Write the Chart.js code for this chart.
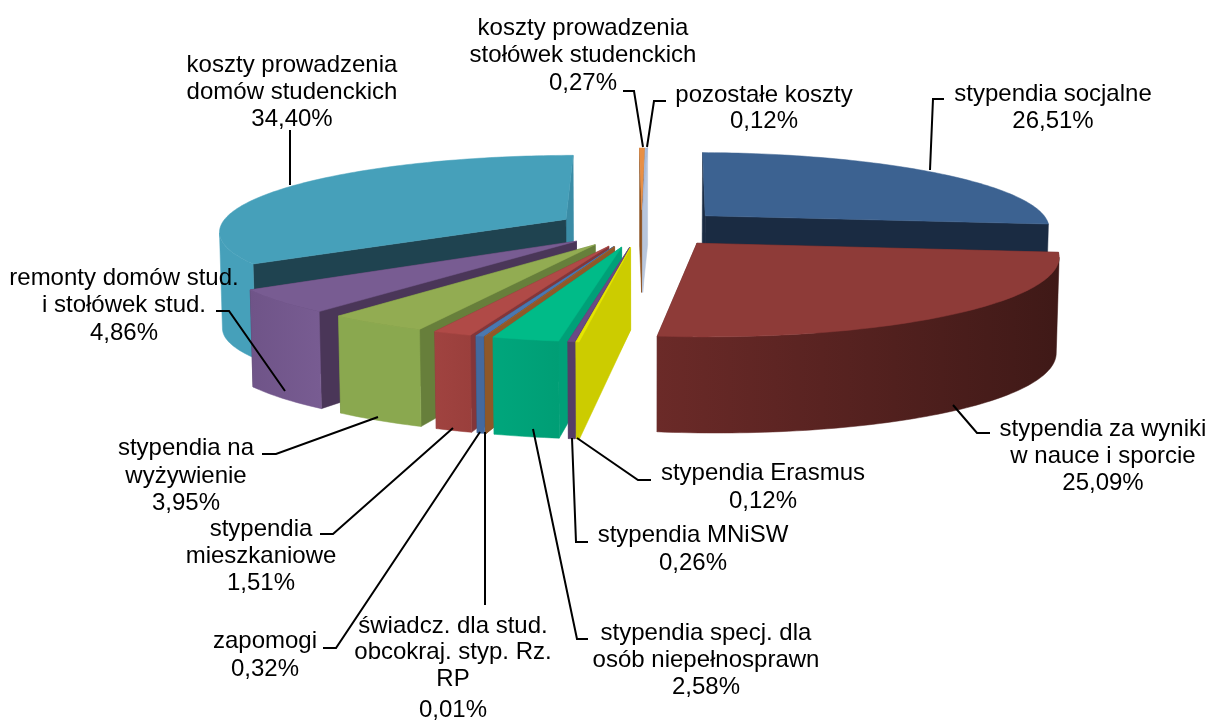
<!DOCTYPE html>
<html>
<head>
<meta charset="utf-8">
<title>Struktura kosztów</title>
<script src="https://cdn.jsdelivr.net/npm/chart.js@4"></script>
<style>
html, body { margin: 0; padding: 0; background: #fff; }
canvas { display: block; }
</style>
</head>
<body>
<canvas id="pie3d" width="1211" height="720"></canvas>
<script>
const categories = [
    'stypendia socjalne',
    'stypendia za wyniki w nauce i sporcie',
    'stypendia Erasmus',
    'stypendia MNiSW',
    'stypendia specj. dla osób niepełnosprawn',
    'świadcz. dla stud. obcokraj. styp. Rz. RP',
    'zapomogi',
    'stypendia mieszkaniowe',
    'stypendia na wyżywienie',
    'remonty domów stud. i stołówek stud.',
    'koszty prowadzenia domów studenckich',
    'koszty prowadzenia stołówek studenckich',
    'pozostałe koszty'
];
const shares = [26.51, 25.09, 0.12, 0.26, 2.58, 0.01, 0.32, 1.51, 3.95, 4.86, 34.40, 0.27, 0.12];

// top face, cut walls, outer wall (left and right end of the gradient)
const topColors = ['#3C6291', '#8E3B38', '#E6E600', '#6A4A85', '#00BB88', '#A0622E', '#4A78B0', '#B04A47', '#92AC52', '#785C92', '#46A0BA', '#E88F45', '#A9BBDB'];
const wallColors = ['#1A2B42', '#5A2523', '#CCCC00', '#553D66', '#00A078', '#8F5828', '#2F4A70', '#83363A', '#677F3B', '#4A3658', '#1F4350', '#8A5020', '#B8C6DC'];
const endWallColors = ['#1A2B42', '#5A2523', '#CCCC00', '#553D66', '#00A078', '#8F5828', '#2F4A70', '#83363A', '#677F3B', '#4A3658', '#3A8CA6', '#8A5020', '#B8C6DC'];
const outerLeft = ['#34557F', '#6B2A28', '#CCCC00', '#553D66', '#00A67C', '#8F5828', '#44699E', '#A04340', '#8AA84F', '#6F5488', '#46A0BA', '#8A5020', '#B8C6DC'];
const outerRight = ['#34557F', '#3F1917', '#CCCC00', '#553D66', '#009E75', '#8F5828', '#44699E', '#9A3F3C', '#8AA84F', '#785C92', '#46A0BA', '#8A5020', '#B8C6DC'];

// label text lines, centre x, y of each line, leader polyline
const labelLines = [
    ['stypendia socjalne', '26,51%'],
    ['stypendia za wyniki', 'w nauce i sporcie', '25,09%'],
    ['stypendia Erasmus', '0,12%'],
    ['stypendia MNiSW', '0,26%'],
    ['stypendia specj. dla', 'osób niepełnosprawn', '2,58%'],
    ['świadcz. dla stud.', 'obcokraj. styp. Rz.', 'RP', '0,01%'],
    ['zapomogi', '0,32%'],
    ['stypendia', 'mieszkaniowe', '1,51%'],
    ['stypendia na', 'wyżywienie', '3,95%'],
    ['remonty domów stud.', 'i stołówek stud.', '4,86%'],
    ['koszty prowadzenia', 'domów studenckich', '34,40%'],
    ['koszty prowadzenia', 'stołówek studenckich', '0,27%'],
    ['pozostałe koszty', '0,12%']
];
const labelX = [1053, 1103, 763, 693, 706, 453, 265, 261, 186, 124, 292, 583, 764];
const labelY = [
    [94, 121],
    [429, 456, 483],
    [473, 501],
    [535, 563],
    [633, 660, 687],
    [626, 652, 679, 710],
    [641, 669],
    [529, 556, 583],
    [448, 476, 503],
    [278, 305, 333],
    [65, 92, 119],
    [28, 55, 83],
    [95, 121]
];
const leaders = [
    [[944, 99], [933, 99], [930, 170]],
    [[990, 433], [977, 433], [953, 405]],
    [[651, 480], [638, 480], [577, 438]],
    [[588, 542], [576, 542], [572, 438]],
    [[588, 639], [577, 639], [533, 429]],
    [[485, 605], [485, 432]],
    [[323, 648], [336, 648], [480, 432]],
    [[320, 534], [333, 534], [453, 428]],
    [[262, 454], [276, 454], [378, 417]],
    [[216, 311], [229, 311], [285, 391]],
    [[290, 130], [290, 185]],
    [[623, 91], [634, 91], [643, 147]],
    [[666, 101], [654, 101], [647, 147]]
];

// view of the tilted pie on screen
const view = { cx: 641.5, cy: 228, sx: 347, sy: 75.5, dist: 7, height: 82, flare: 0.118, lean: 0.993 };

function project(x, z) {
    const p = 1 / (1 - z / view.dist);
    return { x: view.cx + view.sx * x * p, y: view.cy + view.sy * z * p };
}

function projectBottom(x, z) {
    const t = project(x, z);
    return {
        x: view.cx + (t.x - view.cx) * view.lean,
        y: t.y + view.height * (1 + view.flare * (x * x + z * z))
    };
}

function polygon(ctx, pts) {
    ctx.beginPath();
    pts.forEach((p, i) => i ? ctx.lineTo(p.x, p.y) : ctx.moveTo(p.x, p.y));
    ctx.closePath();
}

function fillFace(ctx, pts, fill) {
    polygon(ctx, pts);
    ctx.fillStyle = fill;
    ctx.strokeStyle = fill;
    ctx.lineWidth = 0.5;
    ctx.fill();
    ctx.stroke();
}

const pie3dPlugin = {
    id: 'pie3d',
    beforeDatasetDraw(chart) {
        const ctx = chart.ctx;
        const arcs = chart.getDatasetMeta(0).data;

        const slices = arcs.map((arc, i) => {
            const a0 = arc.startAngle, a1 = arc.endAngle, mid = (a0 + a1) / 2;
            const e = arc.options.offset / arc.outerRadius;
            const ox = Math.cos(mid) * e, oz = Math.sin(mid) * e;
            const rim = [];
            const steps = Math.max(2, Math.ceil((a1 - a0) / 0.02));
            for (let s = 0; s <= steps; s++) {
                const a = a0 + (a1 - a0) * s / steps;
                rim.push([ox + Math.cos(a), oz + Math.sin(a)]);
            }
            return { i, ox, oz, rim, depth: Math.sin(mid) };
        });

        // far slices first
        slices.sort((a, b) => a.depth - b.depth);

        slices.forEach(s => {
            const top = s.rim.map(r => project(r[0], r[1]));
            const bottom = s.rim.map(r => projectBottom(r[0], r[1]));
            const apexTop = project(s.ox, s.oz);
            const apexBottom = projectBottom(s.ox, s.oz);
            const last = top.length - 1;

            // end wall, start wall, outer wall, top
            fillFace(ctx, [apexTop, top[last], bottom[last], apexBottom], endWallColors[s.i]);
            fillFace(ctx, [apexTop, top[0], bottom[0], apexBottom], wallColors[s.i]);

            const xs = top.concat(bottom).map(p => p.x);
            const grad = ctx.createLinearGradient(Math.min(...xs), 0, Math.max(...xs) + 0.01, 0);
            grad.addColorStop(0, outerLeft[s.i]);
            grad.addColorStop(1, outerRight[s.i]);

            // only the part of the rim that faces the viewer
            const facing = [];
            for (let k = 0; k <= last; k++) {
                const next = Math.min(k + 1, last), prev = Math.max(k - 1, 0);
                if (top[next].x < top[prev].x) facing.push(k);
            }
            if (facing.length > 1) {
                const upper = facing.map(k => top[k]);
                const lower = facing.map(k => bottom[k]).reverse();
                fillFace(ctx, upper.concat(lower), grad);
            }

            fillFace(ctx, [apexTop].concat(top), topColors[s.i]);
        });
        return false;
    },
    afterDatasetsDraw(chart) {
        const ctx = chart.ctx;
        ctx.save();
        ctx.strokeStyle = '#000';
        ctx.lineWidth = 2;
        leaders.forEach(line => {
            ctx.beginPath();
            line.forEach((p, i) => i ? ctx.lineTo(p[0], p[1]) : ctx.moveTo(p[0], p[1]));
            ctx.stroke();
        });
        ctx.fillStyle = '#000';
        ctx.font = '24px "Liberation Sans", Arial, sans-serif';
        ctx.textAlign = 'center';
        ctx.textBaseline = 'middle';
        labelLines.forEach((lines, i) => {
            lines.forEach((text, j) => ctx.fillText(text, labelX[i], labelY[i][j]));
        });
        ctx.restore();
    }
};

new Chart(document.getElementById('pie3d'), {
    type: 'pie',
    data: {
        labels: categories,
        datasets: [{
            data: shares,
            backgroundColor: topColors,
            borderWidth: 0,
            offset: 80
        }]
    },
    options: {
        responsive: false,
        animation: false,
        rotation: 1,
        plugins: { legend: { display: false }, tooltip: { enabled: false } }
    },
    plugins: [pie3dPlugin]
});
</script>
</body>
</html>
